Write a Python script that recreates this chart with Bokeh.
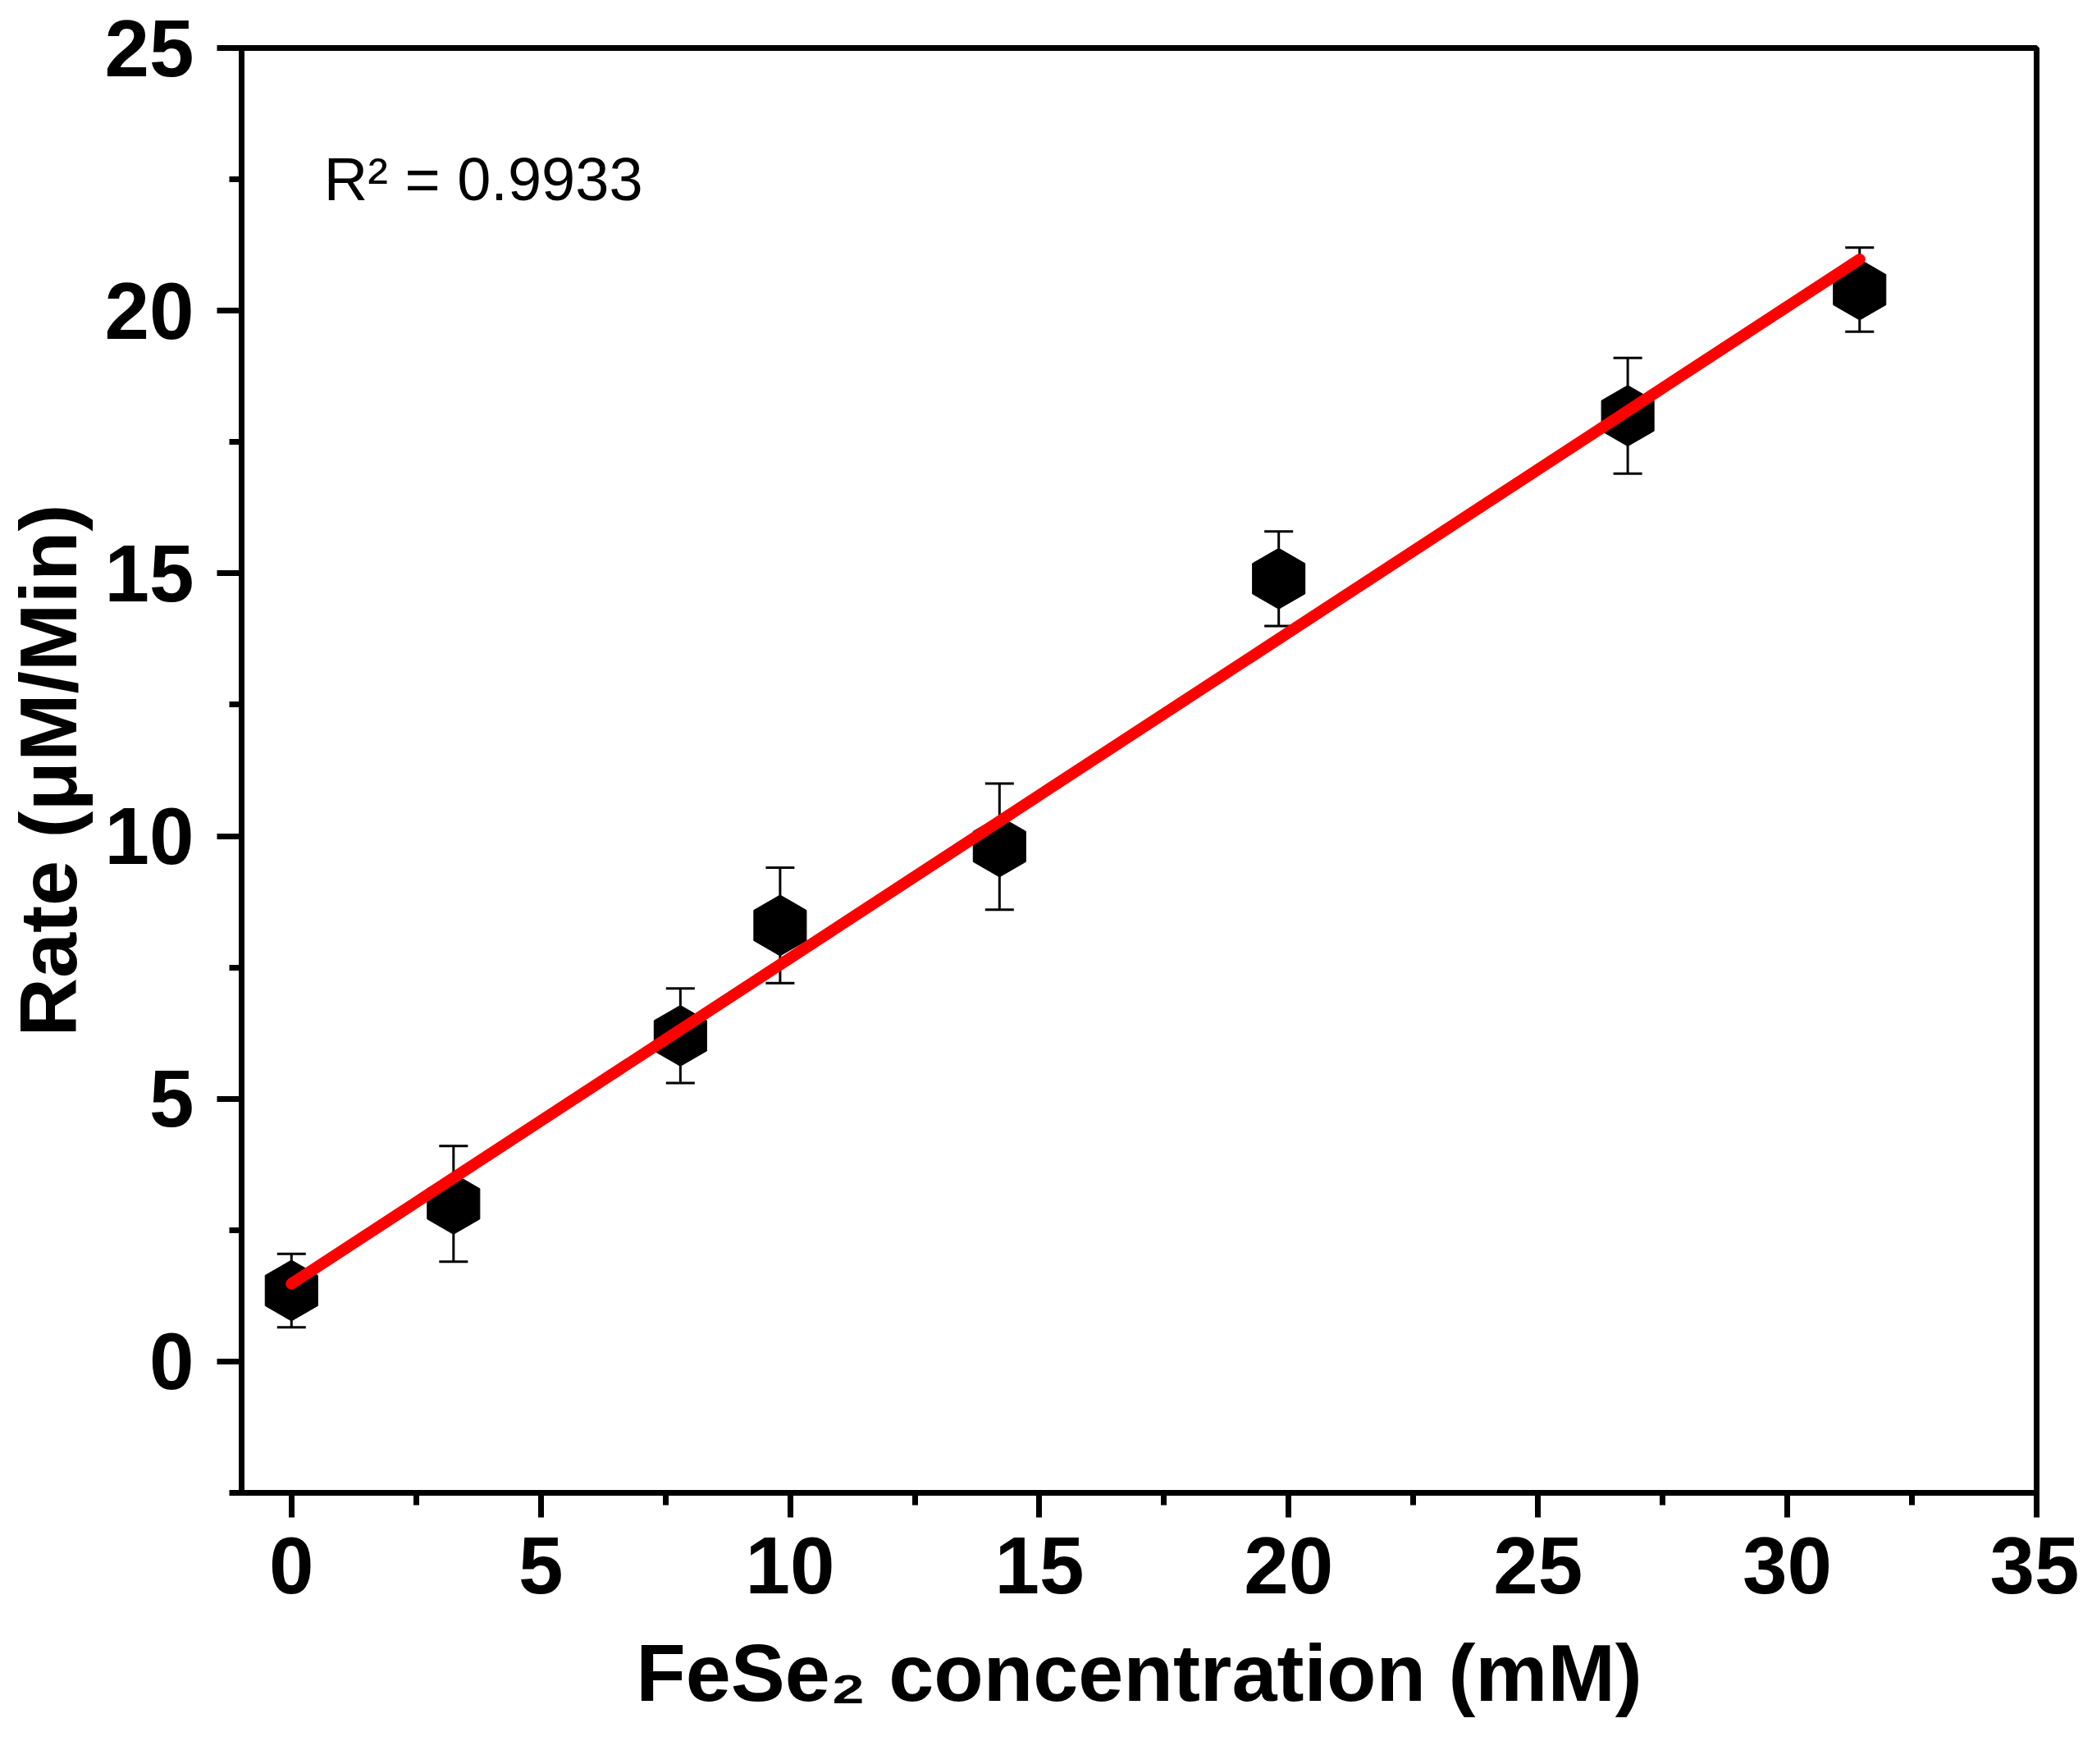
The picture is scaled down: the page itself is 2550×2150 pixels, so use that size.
import numpy as np
from bokeh.plotting import figure
from bokeh.models import Range1d, SingleIntervalTicker, Label, ColumnDataSource
from bokeh.embed import file_html
from bokeh.resources import INLINE

# ---- data ----
conc = [0.0, 3.25, 7.8, 9.8, 14.2, 19.8, 26.8, 31.45]      # FeSe2 concentration (mM)
rate = [1.35, 3.0, 6.2, 8.3, 9.8, 14.9, 18.0, 20.4]        # Rate (uM/Min)
rate_err = [0.7, 1.1, 0.9, 1.1, 1.2, 0.9, 1.1, 0.8]
r2_text = "R\u00b2 = 0.9933"
x_label = "FeSe\u2082 concentration (mM)"
y_label = "Rate (\u03bcM/Min)"

FONT = "Liberation Sans"

cx = np.array(conc)
cy = np.array(rate)
ce = np.array(rate_err)
slope, intercept = np.polyfit(cx, cy, 1)
fit_x = np.array([cx.min(), cx.max()])
fit_y = slope * fit_x + intercept

p = figure(width=2534, height=2134, output_backend="svg", toolbar_location=None,
           x_range=Range1d(-1, 35), y_range=Range1d(-2.5, 25),
           min_border_left=288, min_border_right=52, min_border_top=58, min_border_bottom=315)
p.background_fill_color = "white"
p.border_fill_color = "white"
p.xgrid.visible = False
p.ygrid.visible = False
p.outline_line_color = "black"
p.outline_line_width = 7

for ax, lab in ((p.xaxis[0], x_label), (p.yaxis[0], y_label)):
    ax.ticker = SingleIntervalTicker(interval=5, num_minor_ticks=2)
    ax.axis_label = lab
    ax.axis_label_text_font = FONT
    ax.axis_label_text_font_style = "bold"
    ax.axis_label_text_font_size = "99px"
    ax.axis_label_text_color = "black"
    ax.major_label_text_font = FONT
    ax.major_label_text_font_style = "bold"
    ax.major_label_text_font_size = "98px"
    ax.major_label_text_color = "black"
    ax.axis_line_width = 7
    ax.axis_line_color = "black"
    ax.major_tick_line_width = 7
    ax.minor_tick_line_width = 7
    ax.major_tick_line_color = "black"
    ax.minor_tick_line_color = "black"
    ax.major_tick_in = 0
    ax.minor_tick_in = 0
    ax.major_tick_out = 30
    ax.minor_tick_out = 15

p.xaxis.major_label_standoff = 24
p.xaxis.axis_label_standoff = 38
p.yaxis.major_label_standoff = 28
p.yaxis.axis_label_standoff = 10

# error bars
src = ColumnDataSource(dict(x=cx, y=cy, lo=cy - ce, hi=cy + ce))
p.segment(x0="x", y0="lo", x1="x", y1="hi", source=src, line_color="black", line_width=3)
p.scatter(x="x", y="hi", source=src, marker="dash", size=35, line_color="black", line_width=3)
p.scatter(x="x", y="lo", source=src, marker="dash", size=35, line_color="black", line_width=3)

# hexagon markers
p.scatter(x="x", y="y", source=src, marker="hex", size=74, angle=np.pi / 2,
          fill_color="black", line_color="black")

# linear fit
p.line(fit_x, fit_y, line_color="#ff0000", line_width=14, line_cap="round")

p.add_layout(Label(x=0.65, y=22.5, text=r2_text, text_font=FONT,
                   text_font_size="74px", text_color="black", text_baseline="alphabetic"))

open("out.html", "w").write(file_html(p, INLINE))
